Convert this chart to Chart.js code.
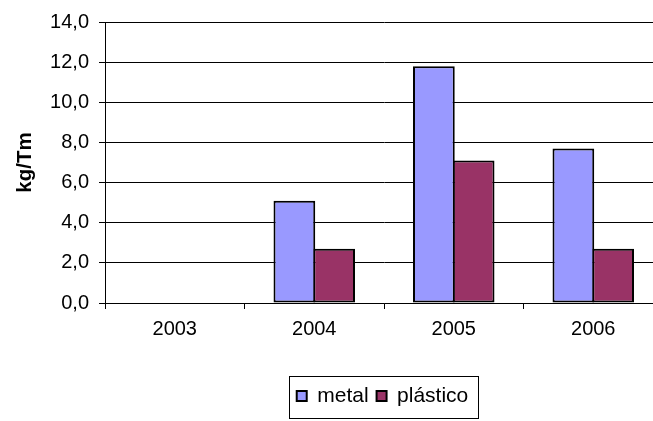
<!DOCTYPE html>
<html>
<head>
<meta charset="utf-8">
<script src="https://cdn.jsdelivr.net/npm/chart.js@4/dist/chart.umd.min.js"></script>
<style>
  html, body { margin: 0; padding: 0; background: #fff; overflow: hidden; }
  #wrap { width: 653px; height: 421px; overflow: hidden; }
</style>
</head>
<body>
<div id="wrap"><canvas id="myChart" width="663" height="421"></canvas></div>
<script>
// data
var years = ['2003', '2004', '2005', '2006'];
var metal = [null, 5.1, 11.8, 7.7];
var plastico = [null, 2.7, 7.1, 2.7];
var seriesNames = ['metal', 'plástico'];
var yTitle = 'kg/Tm';

var FONT = "'Liberation Sans', Arial, sans-serif";
var legendShift = 51;

// move legend to the right and draw a frame round it
var legendFrame = {
    id: 'legendFrame',
    afterLayout: function(chart) {
        var lg = chart.legend;
        lg.left += legendShift;
        lg.right += legendShift;
    },
    afterDraw: function(chart) {
        var lg = chart.legend;
        var boxes = lg.legendHitBoxes;
        if (!boxes || !boxes.length) return;
        var l = Infinity, r = -Infinity, t = Infinity, b = -Infinity;
        boxes.forEach(function(h) {
            l = Math.min(l, h.left);
            r = Math.max(r, h.left + h.width);
            t = Math.min(t, h.top);
            b = Math.max(b, h.top + h.height);
        });
        var ctx = chart.ctx;
        ctx.save();
        ctx.strokeStyle = '#000';
        ctx.lineWidth = 1;
        var x0 = Math.round(l - 8), x1 = Math.round(r + 10);
        var y0 = Math.round(t - 9.5), y1 = Math.round(b + 11.5);
        ctx.strokeRect(x0 + 0.5, y0 + 0.5, x1 - x0, y1 - y0);
        ctx.restore();
    }
};

var config = {
    type: 'bar',
    data: {
        labels: years,
        datasets: [{
            label: seriesNames[0],
            data: metal,
            backgroundColor: '#9999FF',
            borderColor: '#000',
            borderWidth: 2,
            borderSkipped: false
        }, {
            label: seriesNames[1],
            data: plastico,
            backgroundColor: '#993366',
            borderColor: '#000',
            borderWidth: 2,
            borderSkipped: false
        }]
    },
    options: {
        responsive: false,
        animation: false,
        events: [],
        datasets: {
            bar: { categoryPercentage: 0.57, barPercentage: 1.05 }
        },
        layout: { padding: { top: 20, left: 0, right: 0, bottom: 4.5 } },
        plugins: {
            tooltip: { enabled: false },
            legend: {
                position: 'bottom',
                labels: {
                    color: '#000',
                    boxWidth: 10,
                    boxHeight: 10,
                    padding: 8,
                    font: { family: FONT, size: 21 }
                }
            }
        },
        scales: {
            x: {
                afterFit: function(scale) { scale.height = 74.5; },
                border: { display: true, color: '#000', width: 1 },
                grid: {
                    offset: true,
                    drawOnChartArea: false,
                    drawTicks: true,
                    tickLength: 6,
                    color: '#000'
                },
                ticks: {
                    color: '#000',
                    padding: 8,
                    font: { family: FONT, size: 20 }
                }
            },
            y: {
                min: 0,
                max: 14,
                afterFit: function(scale) { scale.width = 105; },
                border: { display: true, color: '#000', width: 1 },
                grid: {
                    color: '#000',
                    tickLength: 6
                },
                ticks: {
                    stepSize: 2,
                    color: '#000',
                    padding: 10,
                    font: { family: FONT, size: 20 },
                    callback: function(v) { return v.toFixed(1).replace('.', ','); }
                },
                title: {
                    display: true,
                    text: yTitle,
                    color: '#000',
                    padding: { top: 13, bottom: 0 },
                    font: { family: FONT, size: 20.5, weight: 'bold' }
                }
            }
        }
    },
    plugins: [legendFrame]
};

var myChart = new Chart(document.getElementById('myChart'), config);
</script>
</body>
</html>
